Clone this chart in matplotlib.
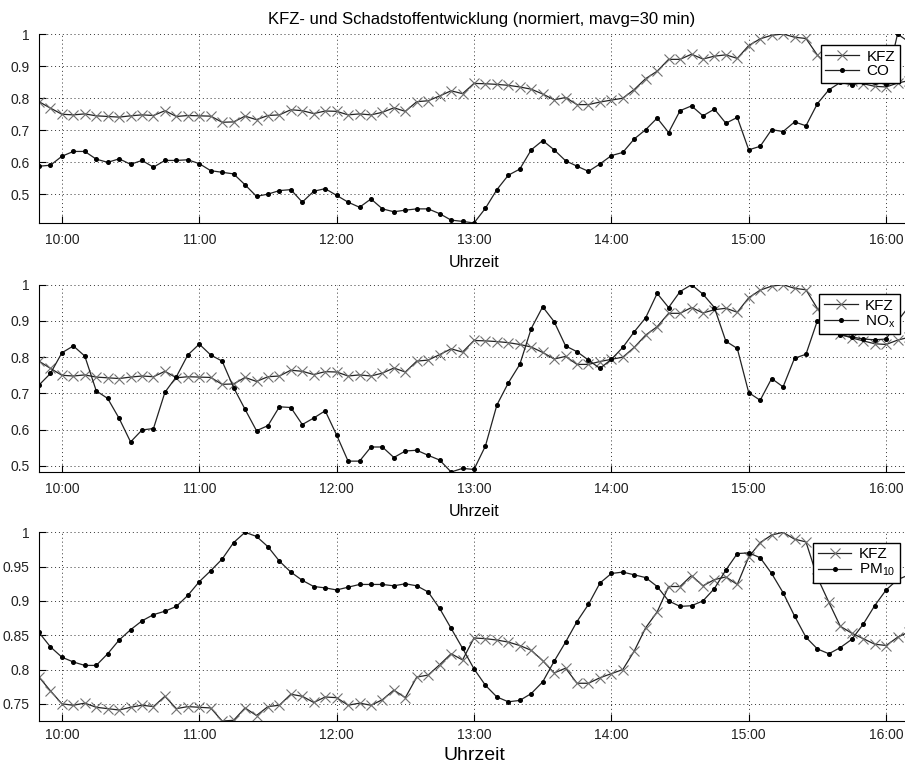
import matplotlib
matplotlib.use('Agg')
import matplotlib.pyplot as plt
import matplotlib.dates as mdates
from matplotlib.ticker import FormatStrFormatter, MultipleLocator
import pandas as pd

plt.rcParams['font.family'] = ['Liberation Sans', 'DejaVu Sans']
plt.rcParams['mathtext.default'] = 'regular'

# 5-minute moving averages, normalized to max = 1
times = pd.date_range('2000-01-01 09:50', periods=77, freq='5min')

kfz = [0.789, 0.769, 0.750, 0.748, 0.751, 0.745, 0.743, 0.741, 0.745, 0.748,
       0.746, 0.761, 0.743, 0.746, 0.745, 0.744, 0.725, 0.726, 0.744, 0.733,
       0.746, 0.748, 0.764, 0.761, 0.752, 0.760, 0.759, 0.748, 0.751, 0.748,
       0.756, 0.770, 0.759, 0.789, 0.792, 0.807, 0.823, 0.814, 0.846, 0.845,
       0.843, 0.840, 0.835, 0.828, 0.813, 0.795, 0.802, 0.780, 0.780, 0.788,
       0.794, 0.800, 0.827, 0.861, 0.884, 0.921, 0.921, 0.937, 0.922, 0.931,
       0.935, 0.924, 0.964, 0.985, 0.996, 1.000, 0.990, 0.986, 0.934, 0.898,
       0.863, 0.853, 0.845, 0.837, 0.835, 0.847, 0.855]

co = [0.588, 0.591, 0.619, 0.634, 0.634, 0.610, 0.600, 0.611, 0.594, 0.606,
      0.585, 0.606, 0.606, 0.608, 0.596, 0.574, 0.569, 0.564, 0.530, 0.494,
      0.501, 0.512, 0.515, 0.476, 0.510, 0.518, 0.497, 0.476, 0.460, 0.486,
      0.455, 0.446, 0.451, 0.455, 0.455, 0.440, 0.420, 0.416, 0.411, 0.457,
      0.515, 0.560, 0.579, 0.639, 0.668, 0.639, 0.605, 0.588, 0.572, 0.595,
      0.621, 0.631, 0.673, 0.702, 0.738, 0.693, 0.761, 0.776, 0.745, 0.766,
      0.722, 0.740, 0.639, 0.650, 0.702, 0.696, 0.726, 0.714, 0.783, 0.826,
      0.849, 0.842, 0.849, 0.849, 0.845, 1.000, 0.975]

nox = [0.723, 0.755, 0.812, 0.831, 0.803, 0.707, 0.686, 0.631, 0.566, 0.599,
       0.603, 0.703, 0.746, 0.806, 0.836, 0.806, 0.789, 0.716, 0.656, 0.597,
       0.611, 0.663, 0.661, 0.614, 0.632, 0.652, 0.585, 0.513, 0.513, 0.552,
       0.552, 0.523, 0.541, 0.543, 0.529, 0.516, 0.483, 0.493, 0.490, 0.555,
       0.668, 0.729, 0.780, 0.879, 0.939, 0.898, 0.831, 0.815, 0.792, 0.769,
       0.794, 0.827, 0.870, 0.909, 0.976, 0.937, 0.981, 1.000, 0.974, 0.937,
       0.844, 0.824, 0.702, 0.681, 0.741, 0.718, 0.797, 0.808, 0.901, 0.895,
       0.861, 0.856, 0.850, 0.848, 0.850, 0.900, 0.940]

pm10 = [0.854, 0.833, 0.818, 0.811, 0.806, 0.806, 0.823, 0.843, 0.858, 0.871,
        0.880, 0.885, 0.892, 0.908, 0.928, 0.944, 0.961, 0.985, 1.000, 0.994,
        0.979, 0.958, 0.942, 0.930, 0.921, 0.919, 0.916, 0.920, 0.924, 0.924,
        0.924, 0.922, 0.925, 0.922, 0.913, 0.889, 0.860, 0.831, 0.801, 0.777,
        0.760, 0.753, 0.755, 0.765, 0.782, 0.812, 0.840, 0.870, 0.895, 0.926,
        0.940, 0.942, 0.938, 0.934, 0.921, 0.900, 0.892, 0.893, 0.900, 0.918,
        0.945, 0.969, 0.970, 0.963, 0.940, 0.912, 0.878, 0.847, 0.830, 0.823,
        0.832, 0.844, 0.866, 0.893, 0.916, 0.931, 0.938]

pollutants = [co, nox, pm10]
labels = ['CO', r'$\mathregular{NO_x}$', r'$\mathregular{PM_{10}}$']
ystep = [0.1, 0.1, 0.05]
xlabel_size = [11.5, 11.5, 14]
xlabel_pad = [6, 6, 3.5]
xtick_pad = [7, 7, 5]

W, H = 905, 767
fig = plt.figure(figsize=(W / 100, H / 100), dpi=100)

# axes boxes in pixels: (top, bottom) of each panel
boxes = [(34, 223), (284.7, 472), (532.3, 721)]
legend_tops = [45, 294, 542.7]
left_px, right_px = 39, 909

for k in range(3):
    top, bot = boxes[k]
    ax = fig.add_axes([left_px / W, 1 - bot / H, (right_px - left_px) / W, (bot - top) / H])
    ax.plot(times, kfz, color='#222222', lw=0.9, marker='x', ms=7, mew=0.8,
            mec='#707070', label='KFZ')
    ax.plot(times, pollutants[k], color='#222222', lw=0.9, marker='o', ms=2.6,
            mfc='black', mec='black', label=labels[k])

    ymin = min(min(kfz), min(pollutants[k]))
    ax.set_xlim(times[0], times[-1])
    ax.set_ylim(ymin, 1)
    ax.yaxis.set_major_locator(MultipleLocator(ystep[k]))
    ax.yaxis.set_major_formatter(FormatStrFormatter('%g'))
    ax.xaxis.set_major_locator(mdates.HourLocator())
    ax.xaxis.set_major_formatter(mdates.DateFormatter('%H:%M'))

    ax.grid(True, color='#333333', lw=0.7, linestyle=(0, (1, 3)))
    ax.spines['top'].set_visible(False)
    ax.spines['right'].set_visible(False)
    ax.tick_params(direction='in', length=5, width=0.8, labelsize=10, pad=7,
                   colors='black', labelcolor='#222222')
    ax.tick_params(axis='x', pad=xtick_pad[k])
    ax.set_xlabel('Uhrzeit', fontsize=xlabel_size[k], labelpad=xlabel_pad[k])

    leg = ax.legend(loc='upper right', bbox_to_anchor=(900 / W, 1 - legend_tops[k] / H),
                    bbox_transform=fig.transFigure, borderaxespad=0, fontsize=11,
                    fancybox=False, framealpha=1, edgecolor='black',
                    handlelength=2.2, handletextpad=0.5, labelspacing=0.05,
                    borderpad=0.3)
    leg.get_frame().set_linewidth(1)

    if k == 0:
        ax.set_title('KFZ- und Schadstoffentwicklung (normiert, mavg=30 min)',
                     fontsize=12, pad=7, x=0.509)

plt.savefig('out.png', dpi=100)
